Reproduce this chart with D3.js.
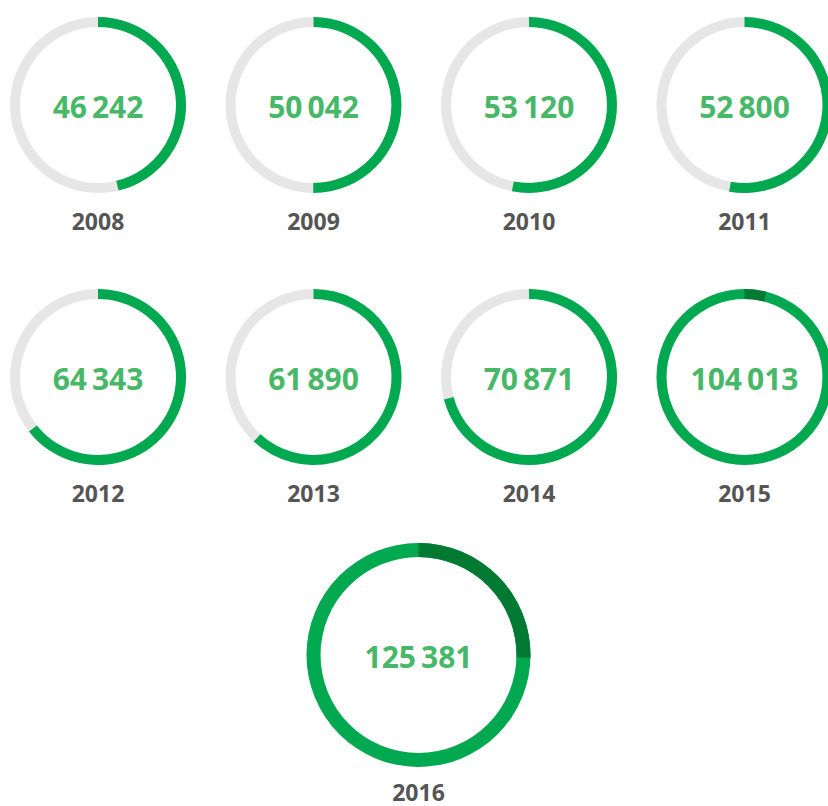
<!DOCTYPE html>
<html>
<head>
<meta charset="utf-8">
<script src="https://cdn.jsdelivr.net/npm/d3@7"></script>
<style>
  body { margin: 0; background: #fff; }
  svg text { font-family: "Open Sans", "Noto Sans", sans-serif; }
</style>
</head>
<body>
<div id="rings"></div>
<script>
// Data
const years = ["2008", "2009", "2010", "2011", "2012", "2013", "2014", "2015", "2016"];
const values = [46242, 50042, 53120, 52800, 64343, 61890, 70871, 104013, 125381];
const fullCircle = 100000;

const width = 828, height = 806;

const svg = d3.select("#rings")
              .append("svg")
                .attr("width", width)
                .attr("height", height);

// one full turn of the ring = 100 000
const angle = d3.scaleLinear()
                .domain([0, fullCircle])
                .range([0, 2 * Math.PI]);

const fmt = d3.formatLocale({decimal: ",", thousands: "\u2009", grouping: [3], currency: ["", ""]}).format(",d");

// layout of the grid: 4 per row, the last one bigger and centred
function layout(i) {
  if (i < 8) {
    return {x: 98 + (i % 4) * 215.5, y: i < 4 ? 105 : 377, r: 88, w: 10, ly: 125};
  }
  return {x: 418.5, y: 655, r: 112, w: 14, ly: 146};
}

const rows = years.map((y, i) => Object.assign({year: y, value: values[i]}, layout(i)));

const g = svg.selectAll("g.ring")
             .data(rows)
             .join("g")
               .attr("class", "ring")
               .attr("transform", d => `translate(${d.x},${d.y})`);

const arc = d3.arc();

// grey track
g.append("path")
   .attr("fill", "#e6e6e6")
   .attr("d", d => arc({innerRadius: d.r - d.w, outerRadius: d.r, startAngle: 0, endAngle: 2 * Math.PI}));

// main green part (up to one full turn)
g.append("path")
   .attr("fill", "#00a84f")
   .attr("d", d => arc({innerRadius: d.r - d.w, outerRadius: d.r, startAngle: 0,
                        endAngle: angle(Math.min(d.value, fullCircle))}));

// overflow past one turn in dark green
g.filter(d => d.value > fullCircle)
 .append("path")
   .attr("fill", "#007a33")
   .attr("d", d => arc({innerRadius: d.r - d.w, outerRadius: d.r, startAngle: 0,
                        endAngle: angle(d.value - fullCircle)}));

// value in the middle
g.append("text")
   .attr("text-anchor", "middle")
   .attr("y", 13)
   .attr("fill", "#47b868")
   .attr("font-size", 30)
   .attr("font-weight", 700)
   .text(d => fmt(d.value));

// year under the ring
g.append("text")
   .attr("text-anchor", "middle")
   .attr("y", d => d.ly)
   .attr("fill", "#555")
   .attr("font-size", 23)
   .attr("font-weight", 700)
   .text(d => d.year);
</script>
</body>
</html>
